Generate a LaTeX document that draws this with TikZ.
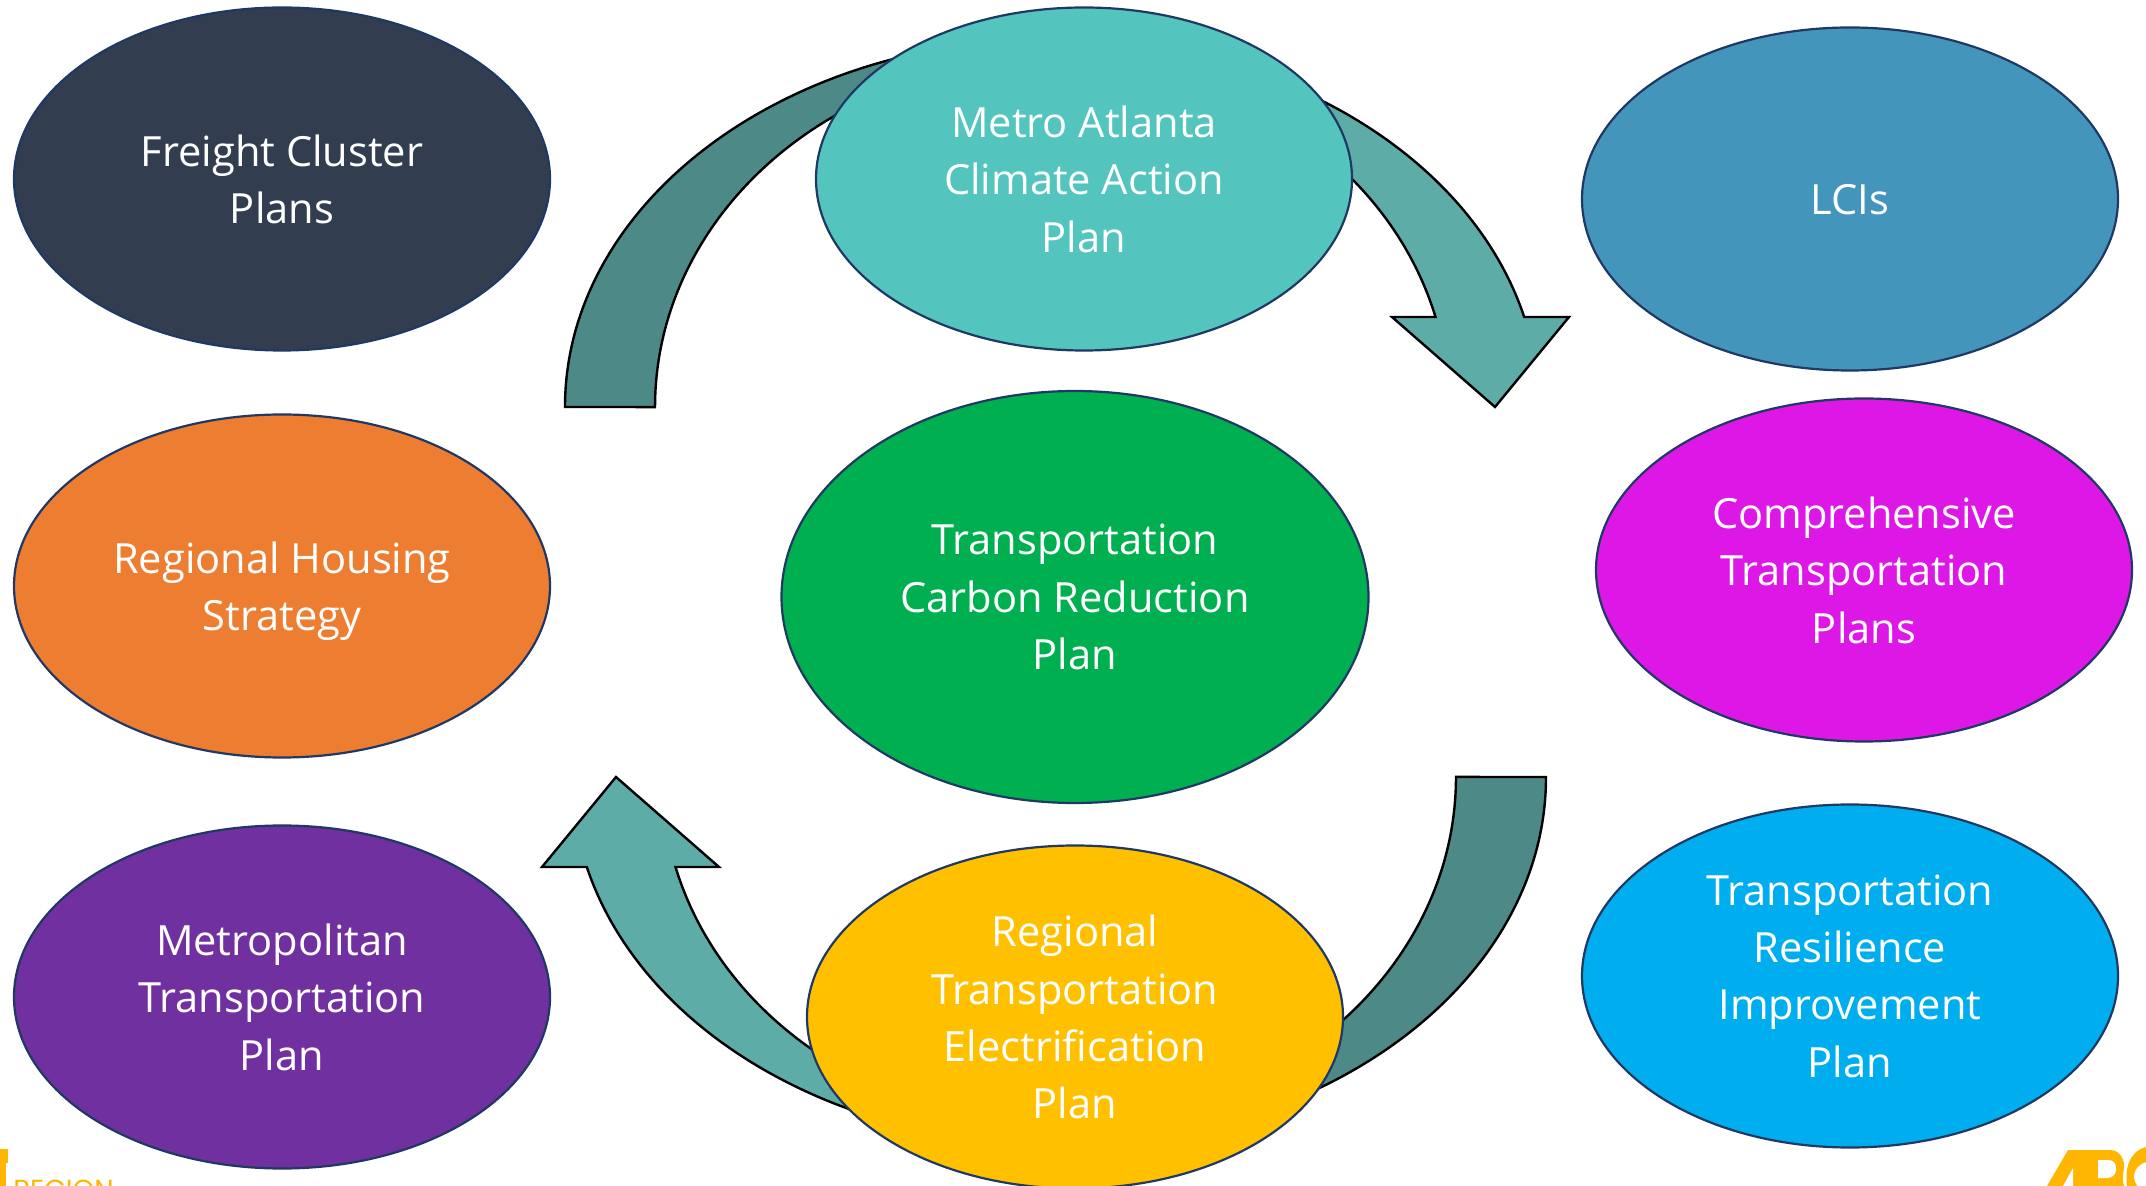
\documentclass[tikz,border=0pt]{standalone}
\usepackage{fontspec}
\setmainfont{Open Sans}
\newfontfamily\logofont{Poppins}
\definecolor{cFreight}{HTML}{323E50}
\definecolor{cHousing}{HTML}{ED7D31}
\definecolor{cMTP}{HTML}{7030A0}
\definecolor{cClimate}{HTML}{53C4BE}
\definecolor{cCarbon}{HTML}{00B050}
\definecolor{cElec}{HTML}{FFC000}
\definecolor{cLCI}{HTML}{4495BC}
\definecolor{cCTP}{HTML}{DD18E6}
\definecolor{cTRIP}{HTML}{00ADEF}
\definecolor{cLine}{HTML}{1F3864}
\definecolor{cDark}{HTML}{4D8A87}
\definecolor{cLight}{HTML}{5EACA8}
\definecolor{cLogo}{HTML}{FFB600}
\pgfdeclarehorizontalshading{arcLR}{100bp}{color(0bp)=(cDark);color(45bp)=(cDark);color(55bp)=(cLight);color(100bp)=(cLight)}
\pgfdeclarehorizontalshading{arcRL}{100bp}{color(0bp)=(cLight);color(45bp)=(cLight);color(55bp)=(cDark);color(100bp)=(cDark)}
\tikzset{
  plan/.style={ellipse,draw=cLine,line width=1.1pt,minimum width=536\pxu,minimum height=343\pxu,inner sep=0pt,text=white,align=center,font=\planfont,text depth=0pt},
  bigplan/.style={plan,minimum width=587\pxu,minimum height=412\pxu},
  flow/.style={draw=black,line width=1.2pt,line join=miter},
}
\def\pxu{*0.5pt}
\newcommand{\planfont}{\fontsize{20.8}{28.7}\selectfont}
\newcommand{\flowshape}{(565,407) arc[start angle=180,end angle=345.84,x radius=487,y radius=368] -- (1569,317) -- (1495,407) -- (1392,317) -- (1435.5,317) arc[start angle=345,end angle=180,x radius=397,y radius=348] -- cycle}
\usetikzlibrary{shapes.geometric}
\begin{document}
\begin{tikzpicture}[x=0.5pt,y=-0.5pt]
\useasboundingbox (0,0) rectangle (2146,1186);
\clip (0,0) rectangle (2146,1186);
% arrows
\path[flow,shade,shading=arcLR] \flowshape;
\begin{scope}[shift={(2111,1184)},xscale=-1,yscale=-1]
\path[flow,shade,shading=arcRL] \flowshape;
\end{scope}
% plans
\node[plan,fill=cFreight] (freight) at (282,179) {Freight Cluster\\Plans};
\node[plan,fill=cHousing] (housing) at (282,586) {Regional Housing\\Strategy};
\node[plan,fill=cMTP] (mtp) at (282,997) {Metropolitan\\Transportation\\Plan};
\node[plan,fill=cClimate] (climate) at (1084,179) {Metro Atlanta\\Climate Action\\Plan};
\node[bigplan,fill=cCarbon] (carbon) at (1075,597) {Transportation\\Carbon Reduction\\Plan};
\node[plan,fill=cElec] (elec) at (1075,1017) {Regional\\Transportation\\Electrification\\Plan};
\node[plan,fill=cLCI] (lci) at (1850,199) {LCIs};
\node[plan,fill=cCTP] (ctp) at (1864,570) {Comprehensive\\Transportation\\Plans};
\node[plan,fill=cTRIP] (trip) at (1850,976) {Transportation\\Resilience\\Improvement\\Plan};
% logos
\fill[cLogo] (0,1149) rectangle (7.5,1163);
\fill[cLogo] (0,1163) rectangle (5.5,1186);
\node[anchor=base west,inner sep=0pt,text=cLogo,font=\logofont\fontsize{13.8}{14}\selectfont] (region) at (13,1199) {REGION};
\fill[cLogo] (2047,1186) -- (2068,1150) -- (2110,1150) .. controls (2120,1150) and (2125,1160) .. (2124,1168) .. controls (2123,1175) and (2122,1181) .. (2124,1186) -- cycle;
\fill[white] (2063,1186) -- (2073,1168) -- (2073,1186) -- cycle;
\fill[white] (2098,1160) -- (2108,1160) .. controls (2114,1160) and (2116,1164) .. (2116,1169) .. controls (2116,1175) and (2112,1178) .. (2107,1178) -- (2098,1178) -- cycle;
\fill[cLogo] (2127,1186) .. controls (2125,1170) and (2128,1152) .. (2146,1147) -- (2146,1162) .. controls (2136,1165) and (2130,1175) .. (2137,1186) -- cycle;
\end{tikzpicture}
\end{document}
